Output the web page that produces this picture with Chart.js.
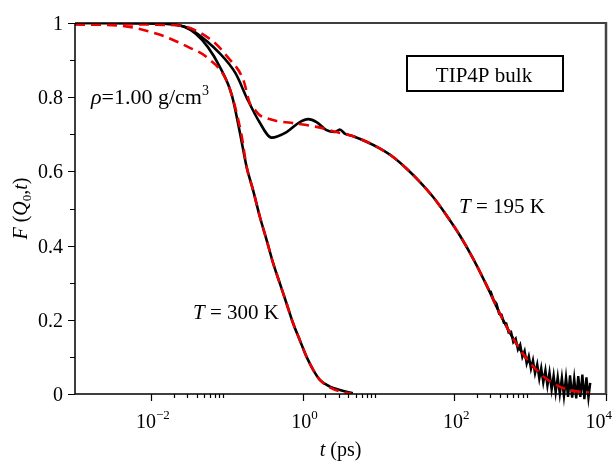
<!DOCTYPE html>
<html>
<head>
<meta charset="utf-8">
<script src="https://cdn.jsdelivr.net/npm/chart.js@4.4.0/dist/chart.umd.min.js"></script>
<style>
  html, body { margin: 0; padding: 0; background: #fff; }
  #wrap { width: 614px; height: 462px; }
</style>
</head>
<body>
<div id="wrap"><canvas id="chart" width="614" height="462"></canvas></div>
<script>
// T = 300 K simulation
const t300 = [0.001, 0.004, 0.0153, 0.028, 0.039, 0.0565, 0.081, 0.117, 0.149, 0.183, 0.223, 0.274, 0.336, 0.41, 0.502, 0.615, 0.752, 0.92, 1.13, 1.38, 1.69, 2.29, 3.1, 4.6];
const f300 = [1.0, 1.0, 0.998, 0.989, 0.971, 0.935, 0.882, 0.805, 0.705, 0.612, 0.549, 0.477, 0.415, 0.352, 0.298, 0.244, 0.19, 0.145, 0.10, 0.065, 0.038, 0.02, 0.011, 0.002];

// T = 300 K fit (red dashed)
const fit300T = [0.001, 0.0037, 0.012, 0.0313, 0.0565, 0.103, 0.156, 0.183, 0.223, 0.274, 0.336, 0.41, 0.502, 0.615, 0.752, 0.92, 1.13, 1.38, 1.69, 2.29, 3.1, 4.4];
const fit300F = [0.996, 0.993, 0.971, 0.935, 0.905, 0.837, 0.70, 0.612, 0.549, 0.477, 0.415, 0.352, 0.298, 0.244, 0.19, 0.145, 0.10, 0.065, 0.038, 0.018, 0.007, 0.001];

// T = 195 K simulation
const t195 = [0.001, 0.0153, 0.028, 0.0353, 0.081, 0.131, 0.187, 0.27, 0.39, 0.615, 0.92, 1.19, 1.53, 2.07, 2.66, 3.1, 3.6, 4.64, 6.97, 10.4, 15.6, 23.4, 35.1, 52.6, 78.8, 118, 177, 265, 398, 596, 893, 1340, 2005, 3000, 4500, 6000];
const f195 = [1.0, 0.998, 0.99, 0.98, 0.918, 0.864, 0.795, 0.733, 0.691, 0.706, 0.733, 0.741, 0.733, 0.711, 0.706, 0.713, 0.702, 0.695, 0.68, 0.662, 0.639, 0.608, 0.572, 0.531, 0.482, 0.428, 0.365, 0.294, 0.217, 0.15, 0.096, 0.056, 0.03, 0.018, 0.015, 0.015];

// T = 195 K fit (red dashed)
const fit195T = [0.001, 0.0219, 0.0638, 0.103, 0.166, 0.202, 0.237, 0.274, 0.339, 0.454, 0.833, 1.53, 2.81, 4.64, 6.97, 10.4, 15.6, 23.4, 35.1, 52.6, 78.8, 118, 177, 265, 398, 596, 893, 1340, 2005, 3000, 4500, 6000];
const fit195F = [0.997, 0.994, 0.953, 0.908, 0.846, 0.783, 0.765, 0.751, 0.743, 0.736, 0.729, 0.72, 0.706, 0.695, 0.68, 0.662, 0.639, 0.608, 0.572, 0.531, 0.482, 0.428, 0.365, 0.294, 0.217, 0.15, 0.096, 0.056, 0.029, 0.013, 0.006, 0.004];

// noisy tail of the 195 K trace, read as its up/down excursions
const noiseT = [300, 330, 360, 390, 420, 450, 485, 520, 560, 600, 645, 690, 740, 790, 845, 900, 960, 1025, 1090, 1160, 1240, 1320, 1400, 1490, 1590, 1690, 1800, 1920, 2040, 2170, 2310, 2460, 2620, 2790, 2970, 3160, 3360, 3580, 3810, 4050, 4310, 4590, 4880, 5190, 5520, 5870, 6200];
const noiseF = [0.278, 0.253, 0.244, 0.216, 0.214, 0.192, 0.19, 0.166, 0.168, 0.14, 0.149, 0.12, 0.133, 0.1, 0.116, 0.082, 0.102, 0.068, 0.091, 0.055, 0.08, 0.041, 0.07, 0.031, 0.064, 0.022, 0.058, 0.012, 0.05, 0.004, 0.046, 0.0, 0.044, -0.006, 0.045, -0.008, 0.05, -0.01, 0.042, -0.012, 0.048, -0.008, 0.052, -0.014, 0.045, -0.01, 0.03];

// axis ticks
const xMajor = [-2, 0, 2, 4];        // labelled decades (exponents)
const xMinorDecades = [-2, 0, 2];    // decades that carry 2..9 minor ticks
const yTicks = [0, 0.1, 0.2, 0.3, 0.4, 0.5, 0.6, 0.7, 0.8, 0.9, 1.0];
const yLabels = ['0', '', '0.2', '', '0.4', '', '0.6', '', '0.8', '', '1'];

const SERIF = '"Liberation Serif", "Times New Roman", serif';

function pts(xs, ys) {
    return xs.map((x, i) => ({ x: x, y: ys[i] }));
}

// draws a run of text pieces (italic, sub/superscript) starting at x
function richText(ctx, parts, x, y, align) {
    let total = 0;
    parts.forEach(p => {
        ctx.font = (p.italic ? 'italic ' : '') + p.size + 'px ' + SERIF;
        p.w = ctx.measureText(p.text).width;
        total += p.w;
    });
    let cx = x;
    if (align === 'center') cx = x - total / 2;
    if (align === 'right') cx = x - total;
    ctx.textAlign = 'left';
    ctx.textBaseline = 'alphabetic';
    parts.forEach(p => {
        ctx.font = (p.italic ? 'italic ' : '') + p.size + 'px ' + SERIF;
        ctx.fillText(p.text, cx, y + (p.dy || 0));
        cx += p.w;
    });
}

const framePlugin = {
    id: 'frame',
    afterDatasetsDraw(chart) {
        const ctx = chart.ctx;
        const a = chart.chartArea;
        const xs = chart.scales.x;
        const ys = chart.scales.y;
        ctx.save();
        ctx.fillStyle = '#000';
        ctx.strokeStyle = '#000';

        // box
        ctx.lineWidth = 1.5;
        ctx.beginPath();
        ctx.moveTo(a.left, a.top);
        ctx.lineTo(a.right, a.top);
        ctx.moveTo(a.left, a.top);
        ctx.lineTo(a.left, a.bottom);
        ctx.lineTo(a.right, a.bottom);
        ctx.stroke();
        ctx.strokeStyle = '#444';
        ctx.lineWidth = 2.5;
        ctx.beginPath();
        ctx.moveTo(a.right, a.top - 1);
        ctx.lineTo(a.right, a.bottom + 1);
        ctx.stroke();

        // x ticks
        ctx.strokeStyle = '#000';
        ctx.lineWidth = 1.2;
        ctx.beginPath();
        xMajor.forEach(e => {
            const px = Math.round(xs.getPixelForValue(Math.pow(10, e))) + 0.5;
            ctx.moveTo(px, a.bottom);
            ctx.lineTo(px, a.bottom + 7);
        });
        xMinorDecades.forEach(e => {
            for (let k = 2; k <= 9; k++) {
                const px = Math.round(xs.getPixelForValue(k * Math.pow(10, e))) + 0.5;
                ctx.moveTo(px, a.bottom);
                ctx.lineTo(px, a.bottom + 4);
            }
        });
        // y ticks
        yTicks.forEach((v, i) => {
            const py = Math.round(ys.getPixelForValue(v)) + 0.5;
            ctx.moveTo(a.left - (i % 2 === 0 ? 7 : 5), py);
            ctx.lineTo(a.left, py);
        });
        ctx.stroke();

        // y tick labels
        yTicks.forEach((v, i) => {
            if (!yLabels[i]) return;
            const py = ys.getPixelForValue(v);
            richText(ctx, [{ text: yLabels[i], size: 20 }], a.left - 12, py + 7, 'right');
        });

        // x tick labels 10^n (the last one is pushed inside the canvas)
        xMajor.forEach(e => {
            const px = xs.getPixelForValue(Math.pow(10, e));
            const ex = e < 0 ? '\u2212' + (-e) : String(e);
            const parts = [
                { text: '10', size: 20 },
                { text: ex, size: 13, dy: -9 }
            ];
            if (e === 4) richText(ctx, parts, 612, 428, 'right');
            else richText(ctx, parts, px + 2, 428, 'center');
        });

        // axis titles
        richText(ctx, [
            { text: 't', size: 20, italic: true },
            { text: ' (ps)', size: 20 }
        ], (a.left + a.right) / 2, 456, 'center');

        ctx.save();
        ctx.translate(27, (a.top + a.bottom) / 2);
        ctx.rotate(-Math.PI / 2);
        richText(ctx, [
            { text: 'F', size: 20, italic: true },
            { text: ' (', size: 20 },
            { text: 'Q', size: 20, italic: true },
            { text: '0', size: 13, dy: 4 },
            { text: ',', size: 20 },
            { text: 't', size: 20, italic: true },
            { text: ')', size: 20 }
        ], 0, 0, 'center');
        ctx.restore();

        // annotations
        richText(ctx, [
            { text: '\u03c1', size: 22, italic: true },
            { text: '=1.00 g/cm', size: 22 },
            { text: '3', size: 14, dy: -9 }
        ], 91, 104, 'left');

        richText(ctx, [
            { text: 'T', size: 21, italic: true },
            { text: ' = 195 K', size: 21 }
        ], 459, 213, 'left');

        richText(ctx, [
            { text: 'T', size: 21, italic: true },
            { text: ' = 300 K', size: 21 }
        ], 193, 319, 'left');

        ctx.lineWidth = 2;
        ctx.strokeRect(407, 56, 156, 35);
        richText(ctx, [{ text: 'TIP4P bulk', size: 21 }], 484, 82, 'center');

        ctx.restore();
    }
};

const red = 'rgb(235, 0, 0)';

new Chart(document.getElementById('chart').getContext('2d'), {
    type: 'line',
    data: {
        datasets: [
            {
                label: 'fit 300 K',
                data: pts(fit300T, fit300F),
                borderColor: red,
                borderWidth: 2.6,
                borderDash: [10, 6],
                cubicInterpolationMode: 'monotone'
            },
            {
                label: 'fit 195 K',
                data: pts(fit195T, fit195F),
                borderColor: red,
                borderWidth: 2.6,
                borderDash: [10, 6],
                cubicInterpolationMode: 'monotone'
            },
            {
                label: 'T = 300 K',
                data: pts(t300, f300),
                borderColor: '#000',
                borderWidth: 2.6,
                cubicInterpolationMode: 'monotone'
            },
            {
                label: 'T = 195 K',
                data: pts(t195, f195),
                borderColor: '#000',
                borderWidth: 2.6,
                cubicInterpolationMode: 'monotone'
            },
            {
                label: 'noise',
                data: pts(noiseT, noiseF),
                borderColor: '#000',
                borderWidth: 2.4,
                tension: 0,
                clip: false
            }
        ]
    },
    options: {
        responsive: false,
        animation: false,
        layout: { padding: { left: 75, top: 23, right: 8, bottom: 68 } },
        scales: {
            x: { type: 'logarithmic', min: 1e-3, max: 1e4, display: false },
            y: { type: 'linear', min: 0, max: 1, display: false }
        },
        elements: { point: { radius: 0 } },
        plugins: {
            legend: { display: false },
            tooltip: { enabled: false }
        }
    },
    plugins: [framePlugin]
});
</script>
</body>
</html>
